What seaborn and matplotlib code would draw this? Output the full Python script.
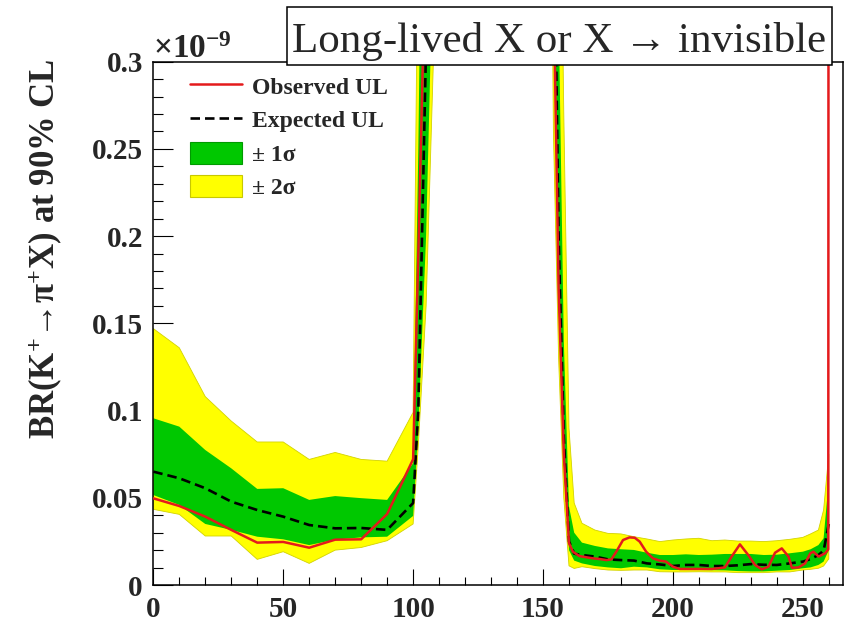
import matplotlib
matplotlib.use("Agg")
import matplotlib.pyplot as plt
import seaborn as sns
from matplotlib.lines import Line2D
from matplotlib.patches import Patch, Rectangle
from matplotlib.ticker import MultipleLocator

# Mass of X (MeV/c^2) at which the limits were evaluated
mass = [0, 10, 20, 30, 40, 50, 60, 70, 80, 90, 100, 102, 105, 110,
        150, 152, 154, 156, 158, 160, 162, 165, 170, 175, 180, 185, 190,
        195, 200, 205, 210, 215, 220, 225, 230, 235, 240, 245, 250, 253,
        256, 258, 260]

# Expected-limit bands (units of 1e-9)
band2_hi = [0.147, 0.136, 0.108, 0.094, 0.082, 0.082, 0.072, 0.076, 0.072, 0.071,
            0.099, 0.40, 1.2, 2.0,
            2.0, 1.5, 0.8, 0.5, 0.27, 0.09, 0.047, 0.0354, 0.0315, 0.0296, 0.0293,
            0.0277, 0.0264, 0.0249, 0.0258, 0.0264, 0.0268, 0.0254, 0.0258, 0.0252,
            0.0252, 0.0249, 0.0254, 0.0262, 0.0273, 0.0293, 0.0315, 0.043, 0.075]
band1_hi = [0.0956, 0.0908, 0.0774, 0.0669, 0.0551, 0.0555, 0.0488, 0.051, 0.0498,
            0.0488, 0.0698, 0.25, 0.6, 1.5,
            1.5, 1.2, 0.55, 0.33, 0.14, 0.045, 0.03, 0.0243, 0.0224, 0.021, 0.0205,
            0.0201, 0.0185, 0.0172, 0.0172, 0.0176, 0.0172, 0.0174, 0.0178, 0.0178,
            0.0178, 0.0172, 0.0174, 0.0182, 0.0191, 0.0205, 0.0229, 0.0268, 0.06]
expected = [0.065, 0.0612, 0.0555, 0.0478, 0.043, 0.0392, 0.0344, 0.0325, 0.0327,
            0.0316, 0.047, 0.10, 0.31, 1.0,
            1.0, 1.0, 0.42, 0.2, 0.085, 0.025, 0.018, 0.0172, 0.0163, 0.0147, 0.0143,
            0.014, 0.0124, 0.0118, 0.0109, 0.0115, 0.0115, 0.0109, 0.0109, 0.0113,
            0.012, 0.0116, 0.0115, 0.0124, 0.0134, 0.0149, 0.0172, 0.0197, 0.035]
band1_lo = [0.0516, 0.0459, 0.035, 0.0316, 0.0277, 0.0262, 0.0229, 0.026, 0.0273,
            0.0277, 0.0396, 0.09, 0.2, 0.5,
            0.8, 0.8, 0.34, 0.16, 0.07, 0.02, 0.014, 0.0124, 0.0109, 0.0101, 0.0096,
            0.0105, 0.0101, 0.009, 0.0086, 0.0086, 0.0086, 0.0085, 0.0084, 0.008,
            0.0078, 0.0078, 0.0082, 0.0086, 0.0096, 0.0101, 0.0115, 0.0134, 0.02]
band2_lo = [0.0434, 0.0405, 0.0281, 0.0281, 0.0147, 0.0191, 0.0124, 0.02, 0.0215,
            0.0254, 0.035, 0.08, 0.16, 0.41,
            0.6, 0.6, 0.26, 0.13, 0.05, 0.011, 0.0095, 0.0105, 0.0094, 0.0086, 0.0084,
            0.0086, 0.0086, 0.0076, 0.0075, 0.0075, 0.0076, 0.0075, 0.0075, 0.0071,
            0.0071, 0.0071, 0.0075, 0.0075, 0.0086, 0.009, 0.0096, 0.0109, 0.015]

# Observed upper limit (units of 1e-9)
obs_mass = [0, 10, 20, 30, 40, 50, 60, 70, 80, 90, 100, 102, 105, 110,
            150, 152, 154, 156, 158, 160, 161.5, 164, 166.7, 169.2, 171.8, 174.4,
            176.3, 178.2, 180.8, 183.3, 185.3, 187.2, 189.7, 192.3, 194.9, 197.4,
            200, 202.6, 206.4, 210, 215, 217.5, 220, 222.6, 225.8, 229, 231.6,
            234.2, 236.8, 239.3, 241.9, 244.5, 245.8, 248.4, 250.9, 252.9, 254.1,
            256.1, 258.6, 259.8, 260.2]
observed = [0.0497, 0.0453, 0.0392, 0.0316, 0.0243, 0.0247, 0.0214, 0.026, 0.0262,
            0.0407, 0.0721, 0.19, 0.38, 1.2,
            1.2, 0.9, 0.35, 0.17, 0.075, 0.024, 0.0191, 0.0166, 0.0159, 0.0153,
            0.0149, 0.0143, 0.0147, 0.0191, 0.0258, 0.0273, 0.0271, 0.0249, 0.0191,
            0.0153, 0.014, 0.0134, 0.0105, 0.0092, 0.0092, 0.0092, 0.0092, 0.0096,
            0.0101, 0.0163, 0.0233, 0.0172, 0.0115, 0.009, 0.0105, 0.0185, 0.021,
            0.0163, 0.0099, 0.0101, 0.0124, 0.0182, 0.0191, 0.0163, 0.0182, 0.0205,
            1.5]

x_ticks = [0, 50, 100, 150, 200, 250]
x_tick_labels = ["0", "50", "100", "150", "200", "250"]
y_ticks = [0, 0.05, 0.1, 0.15, 0.2, 0.25, 0.3]
y_tick_labels = ["0", "0.05", "0.1", "0.15", "0.2", "0.25", "0.3"]

legend_labels = ["Observed UL", "Expected UL", "\u00b1 1\u03c3", "\u00b1 2\u03c3"]

RED = "#e41a1c"
GREEN = "#00c800"
YELLOW = "#ffff00"

sns.set_style("ticks")
plt.rcParams["font.family"] = ["Liberation Serif", "DejaVu Serif"]
plt.rcParams["font.weight"] = "bold"
plt.rcParams["mathtext.fontset"] = "custom"
plt.rcParams["mathtext.rm"] = "Liberation Serif:bold"
plt.rcParams["mathtext.it"] = "Liberation Serif:bold"
plt.rcParams["mathtext.bf"] = "Liberation Serif:bold"

fig = plt.figure(figsize=(8.48, 6.33), dpi=100)
ax = fig.add_axes([0.1808, 0.0758, 0.8137, 0.8267])

ax.fill_between(mass, band2_lo, band2_hi, facecolor=YELLOW, edgecolor="#d2d200",
                lw=0.6, zorder=1)
ax.fill_between(mass, band1_lo, band1_hi, facecolor=GREEN, edgecolor="none",
                lw=0, zorder=2)

dash = (0, (3.6, 1.9))
sns.lineplot(x=mass, y=expected, color="black", lw=1.9, linestyle=dash,
             ax=ax, zorder=3)
sns.lineplot(x=obs_mass, y=observed, color=RED, lw=1.8, ax=ax, zorder=4)

ax.set_xlim(0, 265.6)
ax.set_ylim(0, 0.3)
ax.set_xticks(x_ticks, x_tick_labels)
ax.set_yticks(y_ticks, y_tick_labels)
ax.xaxis.set_minor_locator(MultipleLocator(10))
ax.yaxis.set_minor_locator(MultipleLocator(0.01))
ax.set_xlabel("")
ax.set_ylabel("")

ax.tick_params(which="both", direction="in", top=False, right=False,
               color="black", width=0.8, labelsize=21)
ax.tick_params(axis="x", which="major", length=11.5, pad=8)
ax.tick_params(axis="x", which="minor", length=5.8)
ax.tick_params(axis="y", which="major", length=14.4, pad=7.5)
ax.tick_params(axis="y", which="minor", length=7.2)
for lab in ax.get_xticklabels() + ax.get_yticklabels():
    lab.set_fontweight("bold")
for sp in ax.spines.values():
    sp.set_visible(True)
    sp.set_color("black")
    sp.set_linewidth(1.1)

handles = [
    Line2D([], [], color=RED, lw=1.8),
    Line2D([], [], color="black", lw=1.9, linestyle=dash),
    Patch(facecolor=GREEN, edgecolor="#009a00", lw=0.8),
    Patch(facecolor=YELLOW, edgecolor="#c8c800", lw=0.8),
]
ax.legend(handles, legend_labels, loc="upper left", bbox_to_anchor=(0.053, 0.975),
          frameon=False, prop={"weight": "bold", "size": 17},
          handlelength=2.2, handleheight=1.06, handletextpad=0.42,
          labelspacing=0.4, borderpad=0, borderaxespad=0)

# exponent of the y scale
fig.text(153 / 848, 1 - 58.3 / 633, r"$\times$10$^{-9}$", ha="left",
         va="baseline", fontsize=24, fontweight="bold")

# y-axis title, aligned with the top of the frame
fig.text(45 / 848, 1 - 58 / 633, "BR(K$^{+}$\u2192\u03c0$^{+}$X) at 90% CL",
         rotation=90, ha="center", va="top", fontsize=25, fontweight="bold")

# boxed caption over the top of the frame
fig.add_artist(Rectangle((287 / 848, 1 - 65 / 633), 545 / 848, 58 / 633,
                         transform=fig.transFigure, facecolor="white",
                         edgecolor="black", lw=1.1, zorder=5))
fig.text(559 / 848, 1 - 51.7 / 633, "Long-lived X or X \u2192 invisible",
         ha="center", va="baseline", fontsize=31, fontweight="normal", zorder=6)

fig.savefig("out.png", dpi=100)
